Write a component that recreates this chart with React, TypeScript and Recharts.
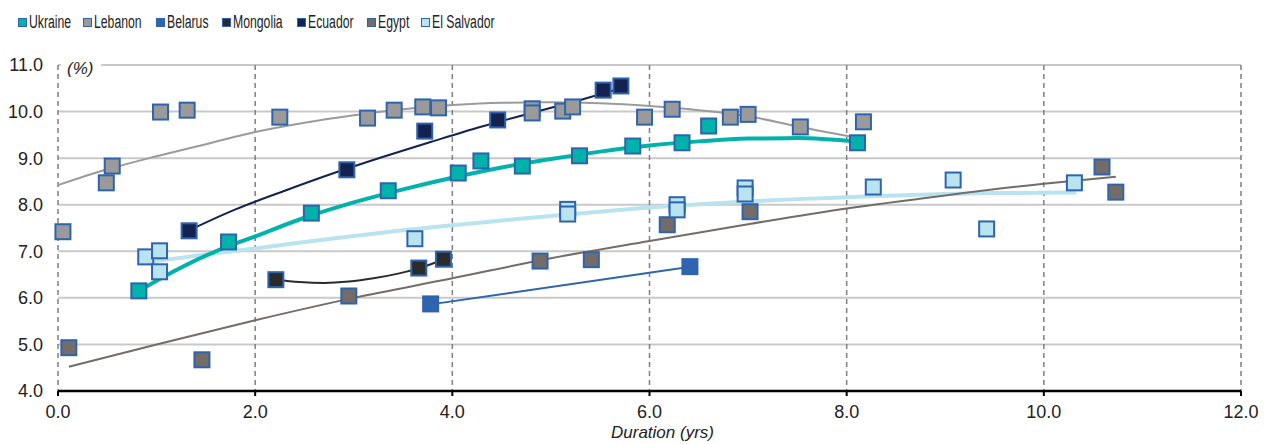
import React from "react";
import { ComposedChart, Scatter, Line, XAxis, YAxis, CartesianGrid } from "recharts";

type Pt = { x: number; y: number };

// observed points (duration yrs, yield %)
const ukraine: Pt[] = [
  { x: 0.82, y: 6.15 }, { x: 1.73, y: 7.2 }, { x: 2.57, y: 7.82 }, { x: 3.35, y: 8.3 },
  { x: 4.06, y: 8.68 }, { x: 4.29, y: 8.94 }, { x: 4.71, y: 8.83 }, { x: 5.29, y: 9.05 },
  { x: 5.83, y: 9.26 }, { x: 6.33, y: 9.33 }, { x: 6.6, y: 9.69 }, { x: 8.11, y: 9.33 },
];
const lebanon: Pt[] = [
  { x: 0.05, y: 7.42 }, { x: 0.49, y: 8.47 }, { x: 0.55, y: 8.83 }, { x: 1.04, y: 9.99 },
  { x: 1.31, y: 10.03 }, { x: 2.25, y: 9.88 }, { x: 3.14, y: 9.86 }, { x: 3.41, y: 10.03 },
  { x: 3.7, y: 10.1 }, { x: 3.86, y: 10.08 }, { x: 4.81, y: 10.06 }, { x: 4.81, y: 9.97 },
  { x: 5.12, y: 10.01 }, { x: 5.22, y: 10.1 }, { x: 5.95, y: 9.88 }, { x: 6.23, y: 10.05 },
  { x: 6.82, y: 9.88 }, { x: 7.0, y: 9.94 }, { x: 7.53, y: 9.67 }, { x: 8.17, y: 9.78 },
];
const belarus: Pt[] = [{ x: 3.78, y: 5.87 }, { x: 6.41, y: 6.67 }];
const mongolia: Pt[] = [{ x: 2.21, y: 6.39 }, { x: 3.66, y: 6.64 }, { x: 3.91, y: 6.83 }];
const ecuador: Pt[] = [
  { x: 1.33, y: 7.44 }, { x: 2.93, y: 8.75 }, { x: 3.72, y: 9.58 },
  { x: 4.46, y: 9.82 }, { x: 5.53, y: 10.46 }, { x: 5.71, y: 10.55 },
];
const egypt: Pt[] = [
  { x: 0.11, y: 4.93 }, { x: 1.46, y: 4.67 }, { x: 2.95, y: 6.04 }, { x: 4.89, y: 6.79 },
  { x: 5.41, y: 6.82 }, { x: 6.18, y: 7.57 }, { x: 7.02, y: 7.85 }, { x: 10.59, y: 8.81 },
  { x: 10.73, y: 8.27 },
];
const elSalvador: Pt[] = [
  { x: 0.89, y: 6.88 }, { x: 1.03, y: 7.01 }, { x: 1.03, y: 6.56 }, { x: 3.62, y: 7.27 },
  { x: 5.17, y: 7.9 }, { x: 5.17, y: 7.8 }, { x: 6.28, y: 8.0 }, { x: 6.28, y: 7.89 },
  { x: 6.97, y: 8.36 }, { x: 6.97, y: 8.23 }, { x: 8.27, y: 8.38 }, { x: 9.08, y: 8.53 },
  { x: 9.42, y: 7.48 }, { x: 10.31, y: 8.47 },
];

// trend lines
const ukraineTrend: Pt[] = [
  { x: 0.82, y: 6.15 }, { x: 1.2, y: 6.6 }, { x: 1.6, y: 7.0 }, { x: 2.0, y: 7.32 },
  { x: 2.5, y: 7.72 }, { x: 3.0, y: 8.05 }, { x: 3.5, y: 8.33 }, { x: 4.0, y: 8.58 },
  { x: 4.5, y: 8.8 }, { x: 5.0, y: 8.98 }, { x: 5.5, y: 9.14 }, { x: 6.0, y: 9.27 },
  { x: 6.5, y: 9.36 }, { x: 7.0, y: 9.42 }, { x: 7.5, y: 9.43 }, { x: 8.11, y: 9.35 },
];
const lebanonTrend: Pt[] = [
  { x: 0.0, y: 8.42 }, { x: 0.5, y: 8.76 }, { x: 1.0, y: 9.04 }, { x: 1.5, y: 9.3 },
  { x: 2.0, y: 9.56 }, { x: 2.5, y: 9.76 }, { x: 3.0, y: 9.92 }, { x: 3.5, y: 10.05 },
  { x: 4.0, y: 10.14 }, { x: 4.5, y: 10.19 }, { x: 5.0, y: 10.2 }, { x: 5.5, y: 10.18 },
  { x: 6.0, y: 10.12 }, { x: 6.5, y: 10.03 }, { x: 7.0, y: 9.9 }, { x: 7.5, y: 9.68 },
  { x: 8.16, y: 9.42 },
];
const belarusTrend: Pt[] = [{ x: 3.78, y: 5.86 }, { x: 6.33, y: 6.64 }];
const mongoliaTrend: Pt[] = [
  { x: 2.21, y: 6.39 }, { x: 2.45, y: 6.34 }, { x: 2.7, y: 6.32 }, { x: 2.95, y: 6.35 },
  { x: 3.2, y: 6.42 }, { x: 3.45, y: 6.52 }, { x: 3.7, y: 6.66 }, { x: 3.91, y: 6.83 },
];
const ecuadorTrend: Pt[] = [
  { x: 1.33, y: 7.45 }, { x: 1.8, y: 7.9 }, { x: 2.3, y: 8.3 }, { x: 2.8, y: 8.68 },
  { x: 3.3, y: 9.03 }, { x: 3.8, y: 9.36 }, { x: 4.3, y: 9.68 }, { x: 4.8, y: 9.97 },
  { x: 5.3, y: 10.25 }, { x: 5.71, y: 10.5 },
];
const egyptTrend: Pt[] = [
  { x: 0.11, y: 4.52 }, { x: 1.0, y: 5.0 }, { x: 2.0, y: 5.52 }, { x: 3.0, y: 6.0 },
  { x: 4.0, y: 6.42 }, { x: 5.0, y: 6.85 }, { x: 6.0, y: 7.22 }, { x: 7.0, y: 7.58 },
  { x: 8.0, y: 7.92 }, { x: 9.0, y: 8.2 }, { x: 10.0, y: 8.45 }, { x: 10.73, y: 8.6 },
];
const elSalvadorTrend: Pt[] = [
  { x: 0.89, y: 6.76 }, { x: 1.5, y: 6.93 }, { x: 2.0, y: 7.06 }, { x: 2.5, y: 7.2 },
  { x: 3.0, y: 7.33 }, { x: 3.5, y: 7.45 }, { x: 4.0, y: 7.56 }, { x: 4.5, y: 7.66 },
  { x: 5.0, y: 7.76 }, { x: 5.5, y: 7.85 }, { x: 6.0, y: 7.94 }, { x: 6.5, y: 8.01 },
  { x: 7.0, y: 8.07 }, { x: 7.5, y: 8.12 }, { x: 8.0, y: 8.16 }, { x: 8.5, y: 8.2 },
  { x: 9.0, y: 8.23 }, { x: 9.5, y: 8.25 }, { x: 10.33, y: 8.26 },
];

const xTicks = [0, 2, 4, 6, 8, 10, 12];
const yTicks = [4, 5, 6, 7, 8, 9, 10, 11];

const BORDER = "#2E64AE";
const FONT = "'Liberation Sans', Arial, sans-serif";

const legendItems = [
  { name: "Ukraine", color: "#00B2A9", left: 18 },
  { name: "Lebanon", color: "#9A9A9A", left: 83 },
  { name: "Belarus", color: "#2F65AE", left: 156 },
  { name: "Mongolia", color: "#2B2B2B", left: 222 },
  { name: "Ecuador", color: "#15224F", left: 297 },
  { name: "Egypt", color: "#736C68", left: 367 },
  { name: "El Salvador", color: "#B9E3EE", left: 421 },
];

const square = (fill: string) => (p: any) => (
  <rect x={p.cx - 7.5} y={p.cy - 7.5} width={15} height={15} fill={fill} stroke={BORDER} strokeWidth={2} />
);

const tickStyle = { fill: "#222", fontSize: 18, fontFamily: FONT };

export default function App() {
  return (
    <div style={{ position: "fixed", left: 0, top: 0, width: 1270, height: 444, background: "#fff", fontFamily: FONT }}>
      {legendItems.map((l) => (
        <div key={l.name} style={{ position: "absolute", left: l.left, top: 12, display: "flex", alignItems: "center", color: "#222" }}>
          <span style={{ width: 7, height: 7, background: l.color, border: `1.5px solid ${BORDER}`, marginRight: 2 }} />
          <span style={{ fontSize: 18, lineHeight: "20px", display: "inline-block", transform: "scaleX(0.68)", transformOrigin: "left center", whiteSpace: "nowrap" }}>{l.name}</span>
        </div>
      ))}
      <ComposedChart width={1270} height={444} margin={{ top: 65, right: 29, bottom: 0, left: 0 }}>
        <CartesianGrid vertical={false} stroke="#C9C9C9" strokeWidth={2} />
        <CartesianGrid horizontal={false} stroke="#7F7F7F" strokeWidth={1.5} strokeDasharray="5 4" />
        <XAxis type="number" dataKey="x" domain={[0, 12]} ticks={xTicks} tickFormatter={(v) => v.toFixed(1)}
          axisLine={{ stroke: "#000", strokeWidth: 2.5 }} tickLine={{ stroke: "#000", strokeWidth: 2 }}
          tickSize={5} tickMargin={9} height={53} tick={tickStyle}
          label={{ value: "Duration (yrs)", position: "insideBottom", offset: 6, dx: 13, fontStyle: "italic", fontSize: 17, fill: "#222", fontFamily: FONT }} />
        <YAxis type="number" dataKey="y" domain={[4, 11]} ticks={yTicks} tickFormatter={(v) => v.toFixed(1)}
          axisLine={false} tickLine={false} tickMargin={9} width={58} tick={tickStyle} />

        <Scatter name="Ukraine" data={ukraine} shape={square("#00B2A9")} isAnimationActive={false} />
        <Scatter name="Lebanon" data={lebanon} shape={square("#9A9A9A")} isAnimationActive={false} />
        <Scatter name="Belarus" data={belarus} shape={square("#2F65AE")} isAnimationActive={false} />
        <Scatter name="Mongolia" data={mongolia} shape={square("#2B2B2B")} isAnimationActive={false} />
        <Scatter name="Ecuador" data={ecuador} shape={square("#15224F")} isAnimationActive={false} />
        <Scatter name="Egypt" data={egypt} shape={square("#736C68")} isAnimationActive={false} />
        <Scatter name="El Salvador" data={elSalvador} shape={square("#B9E3EE")} isAnimationActive={false} />

        <Line data={elSalvadorTrend} dataKey="y" type="monotone" stroke="#B9E3EE" strokeWidth={4} dot={false} activeDot={false} isAnimationActive={false} />
        <Line data={egyptTrend} dataKey="y" type="monotone" stroke="#736C68" strokeWidth={2} dot={false} activeDot={false} isAnimationActive={false} />
        <Line data={lebanonTrend} dataKey="y" type="monotone" stroke="#9B9B9B" strokeWidth={2} dot={false} activeDot={false} isAnimationActive={false} />
        <Line data={belarusTrend} dataKey="y" type="monotone" stroke="#2F65AE" strokeWidth={2} dot={false} activeDot={false} isAnimationActive={false} />
        <Line data={mongoliaTrend} dataKey="y" type="monotone" stroke="#2B2B2B" strokeWidth={2} dot={false} activeDot={false} isAnimationActive={false} />
        <Line data={ecuadorTrend} dataKey="y" type="monotone" stroke="#15224F" strokeWidth={2} dot={false} activeDot={false} isAnimationActive={false} />
        <Line data={ukraineTrend} dataKey="y" type="monotone" stroke="#00B2A9" strokeWidth={4} dot={false} activeDot={false} isAnimationActive={false} />
      </ComposedChart>
      <div style={{ position: "absolute", left: 61, top: 58, width: 40, height: 22, background: "#fff", fontStyle: "italic", fontSize: 17, color: "#222", paddingLeft: 6, boxSizing: "border-box", lineHeight: "22px" }}>
        (%)
      </div>
    </div>
  );
}
